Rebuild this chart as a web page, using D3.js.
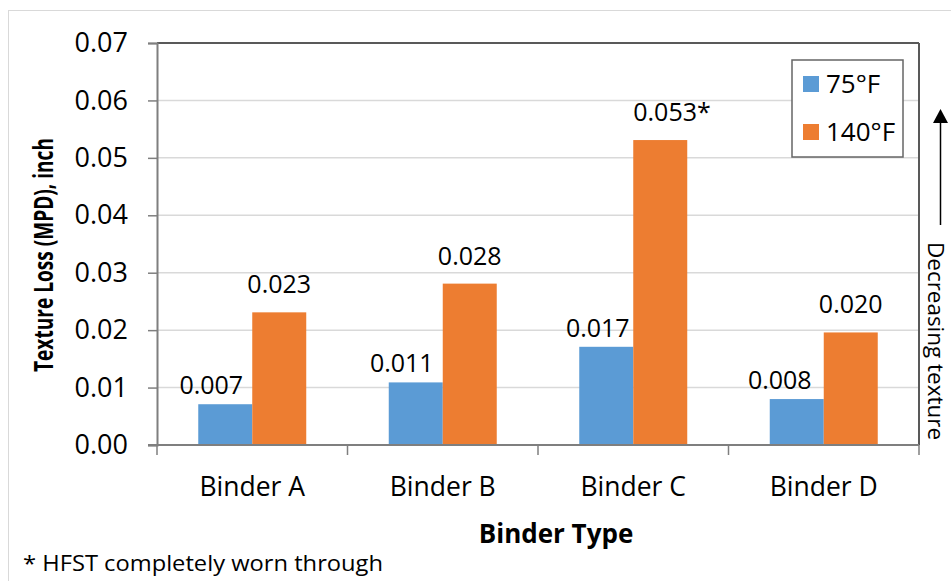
<!DOCTYPE html>
<html><head><meta charset="utf-8">
<script src="https://cdn.jsdelivr.net/npm/d3@7"></script>
<style>body{margin:0;background:#fff}svg{display:block;font-family:"Open Sans",sans-serif}</style>
</head><body>
<svg id="c" width="951" height="581"></svg>
<script>
const categories = ["Binder A", "Binder B", "Binder C", "Binder D"];
const seriesNames = ["75°F", "140°F"];
const values75 = [0.0071, 0.0109, 0.0171, 0.0080];
const values140 = [0.0231, 0.0281, 0.0531, 0.0196];
const labels75 = ["0.007", "0.011", "0.017", "0.008"];
const labels140 = ["0.023", "0.028", "0.053*", "0.020"];
const yTicks = [0, 0.01, 0.02, 0.03, 0.04, 0.05, 0.06, 0.07];
const colors = ["#5b9bd5", "#ed7d31"];

const svg = d3.select("#c");
const L = 157, R = 919, T = 43, B = 445;
// manual label nudges (layout only)
const labelDx = [[-14, 0], [-14, 0], [-8.5, 0], [-17, 0]];
const labelGap = [10, 19];

// outer chart border
svg.append("rect").attr("x", 8.5).attr("y", 10.5).attr("width", 960).attr("height", 600)
  .attr("fill", "none").attr("stroke", "#d9d9d9").attr("stroke-width", 1);

const x = d3.scaleBand().domain(categories).range([L, R]);
const x1 = d3.scaleBand().domain(seriesNames).range([0, x.bandwidth()]).paddingOuter(0.764);
const y = d3.scaleLinear().domain([0, 0.07]).range([B, T]);

// gridlines
svg.append("g").selectAll("line").data(yTicks.slice(1)).join("line")
  .attr("x1", L).attr("x2", R).attr("y1", d => y(d)).attr("y2", d => y(d))
  .attr("stroke", "#d9d9d9").attr("stroke-width", 1.5);

// bars
const data = categories.map((c, i) => ({c, i, vals: [
  {s: seriesNames[0], k: 0, i, v: values75[i], lab: labels75[i], col: colors[0]},
  {s: seriesNames[1], k: 1, i, v: values140[i], lab: labels140[i], col: colors[1]}]}));
const g = svg.append("g").selectAll("g").data(data).join("g")
  .attr("transform", d => `translate(${x(d.c)},0)`);
g.selectAll("rect").data(d => d.vals).join("rect")
  .attr("x", d => x1(d.s)).attr("width", x1.bandwidth())
  .attr("y", d => y(d.v)).attr("height", d => B - y(d.v)).attr("fill", d => d.col);
g.selectAll("text").data(d => d.vals).join("text")
  .attr("x", d => d.lab.endsWith("*") ? x1(d.s) : x1(d.s) + x1.bandwidth() / 2 + labelDx[d.i][d.k])
  .attr("y", d => y(d.v) - labelGap[d.k])
  .attr("text-anchor", d => d.lab.endsWith("*") ? "start" : "middle")
  .attr("font-size", 25).attr("fill", "#000").text(d => d.lab);

// plot border top/right
svg.append("line").attr("x1", L).attr("x2", R).attr("y1", T).attr("y2", T).attr("stroke", "#595959").attr("stroke-width", 2);
svg.append("line").attr("x1", R).attr("x2", R).attr("y1", T).attr("y2", B).attr("stroke", "#595959").attr("stroke-width", 2);

// y axis
const yAxis = d3.axisLeft(y).tickValues(yTicks).tickFormat(d3.format(".2f")).tickSize(9).tickPadding(20);
const ya = svg.append("g").attr("transform", `translate(${L},0)`).call(yAxis);
ya.select(".domain").attr("stroke", "#7f7f7f").attr("stroke-width", 2);
ya.selectAll(".tick line").attr("stroke", "#7f7f7f").attr("stroke-width", 1.5);
ya.selectAll(".tick text").attr("font-size", 27).attr("font-family", "Open Sans").attr("fill", "#000");

// x axis
svg.append("line").attr("x1", L - 9).attr("x2", R).attr("y1", B).attr("y2", B).attr("stroke", "#7f7f7f").attr("stroke-width", 2);
const bounds = categories.map(c => x(c)).concat([R]);
svg.append("g").selectAll("line").data(bounds).join("line")
  .attr("x1", d => d).attr("x2", d => d).attr("y1", B).attr("y2", B + 10)
  .attr("stroke", "#7f7f7f").attr("stroke-width", 1.5);
svg.append("g").selectAll("text").data(categories).join("text")
  .attr("x", d => x(d) + x.bandwidth() / 2).attr("y", 496).attr("text-anchor", "middle")
  .attr("font-size", 26.5).text(d => d);

// axis titles
svg.append("text").attr("x", 556).attr("y", 543).attr("text-anchor", "middle")
  .attr("font-size", 26).attr("font-weight", "bold").text("Binder Type");
svg.append("text").attr("transform", "translate(53,255) rotate(-90)").attr("text-anchor", "middle")
  .attr("font-size", 26).attr("font-weight", "bold")
  .attr("textLength", 234).attr("lengthAdjust", "spacingAndGlyphs").text("Texture Loss (MPD), inch");

// legend
const lg = svg.append("g");
lg.append("rect").attr("x", 792).attr("y", 60).attr("width", 111).attr("height", 97)
  .attr("fill", "#fff").attr("stroke", "#666").attr("stroke-width", 1.5);
seriesNames.forEach((s, i) => {
  lg.append("rect").attr("x", 803).attr("y", 76 + i * 48).attr("width", 16).attr("height", 16).attr("fill", colors[i]);
  lg.append("text").attr("x", 826).attr("y", 93 + i * 48).attr("font-size", 26).text(s);
});

// right annotation
svg.append("line").attr("x1", 940.5).attr("x2", 940.5).attr("y1", 225).attr("y2", 122).attr("stroke", "#000").attr("stroke-width", 1.5);
svg.append("path").attr("d", "M933,123L948,123L940.5,109Z").attr("fill", "#000");
svg.append("text").attr("transform", "translate(928,242) rotate(90)").attr("font-size", 22)
  .attr("textLength", 198).attr("lengthAdjust", "spacingAndGlyphs").text("Decreasing texture");

// footnote
svg.append("text").attr("x", 23).attr("y", 571).attr("font-size", 21)
  .attr("textLength", 360).attr("lengthAdjust", "spacingAndGlyphs").text("* HFST completely worn through");
</script>
</body></html>
